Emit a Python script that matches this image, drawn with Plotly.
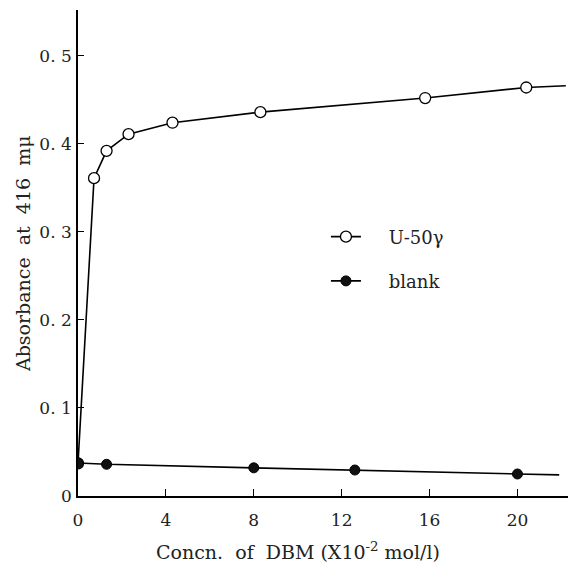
import plotly.graph_objects as go

# Data
u50_x = [0.0, 0.73, 1.3, 2.3, 4.3, 8.3, 15.8, 20.4]
u50_y = [0.037, 0.361, 0.392, 0.411, 0.424, 0.436, 0.452, 0.464]
u50_tail_x = [20.4, 22.2]
u50_tail_y = [0.464, 0.466]

blank_x = [0.0, 1.3, 8.0, 12.6, 20.0]
blank_y = [0.0375, 0.036, 0.032, 0.0295, 0.025]
blank_tail_x = [20.0, 21.9]
blank_tail_y = [0.025, 0.024]

x_ticks = [0, 4, 8, 12, 16, 20]
x_ticktext = ["0", "4", "8", "12", "16", "20"]
y_ticks = [0, 0.1, 0.2, 0.3, 0.4, 0.5]
y_ticktext = ["0", "0. 1", "0. 2", "0. 3", "0. 4", "0. 5"]

x_title = "Concn.  of  DBM (X10<sup>-2</sup> mol/l)"
y_title = "Absorbance  at  416  mμ"

FONT = "DejaVu Serif"
fig = go.Figure()

fig.add_trace(go.Scatter(x=u50_tail_x, y=u50_tail_y, mode="lines",
                         line=dict(color="black", width=1.6), showlegend=False, hoverinfo="skip"))
fig.add_trace(go.Scatter(x=blank_tail_x, y=blank_tail_y, mode="lines",
                         line=dict(color="black", width=1.6), showlegend=False, hoverinfo="skip"))
fig.add_trace(go.Scatter(x=u50_x, y=u50_y, mode="lines+markers", name="\u00a0\u00a0\u00a0\u00a0U-50γ",
                         line=dict(color="black", width=1.6),
                         marker=dict(symbol="circle", size=11, color="white",
                                     line=dict(color="black", width=1.3)),
                         legend="legend"))
fig.add_trace(go.Scatter(x=blank_x, y=blank_y, mode="lines+markers", name="\u00a0\u00a0\u00a0\u00a0blank",
                         line=dict(color="black", width=1.6),
                         marker=dict(symbol="circle", size=10, color="#111111",
                                     line=dict(color="black", width=1)),
                         legend="legend2"))

fig.update_layout(
    width=577, height=573,
    margin=dict(l=78, r=9, t=10, b=77),
    paper_bgcolor="white", plot_bgcolor="white",
    font=dict(family=FONT, size=16, color="#222222"),
    legend=dict(x=0.506, y=0.533, xanchor="left", yanchor="middle",
                bgcolor="rgba(0,0,0,0)", font=dict(size=18)),
    legend2=dict(x=0.506, y=0.442, xanchor="left", yanchor="middle",
                 bgcolor="rgba(0,0,0,0)", font=dict(size=18)),
    xaxis=dict(range=[0, 22.3], tickvals=x_ticks, ticktext=x_ticktext,
               ticks="inside", ticklen=7, tickwidth=1.3, tickcolor="black",
               showline=True, linecolor="black", linewidth=1.6,
               showgrid=False, zeroline=False,
               tickfont=dict(size=17), ticklabelstandoff=8),
    yaxis=dict(range=[0, 0.552], tickvals=y_ticks, ticktext=y_ticktext,
               ticks="inside", ticklen=6, tickwidth=1.3, tickcolor="black",
               showline=True, linecolor="black", linewidth=1.6,
               showgrid=False, zeroline=False,
               tickfont=dict(size=17), ticklabelstandoff=1),
    annotations=[
        dict(text=x_title, xref="paper", yref="paper", x=0.449, y=-0.113,
             xanchor="center", yanchor="middle", showarrow=False,
             font=dict(size=19, family=FONT, color="#222222")),
        dict(text=y_title, xref="paper", yref="paper", x=-0.112, y=0.498,
             xanchor="center", yanchor="middle", showarrow=False, textangle=-90,
             font=dict(size=19, family=FONT, color="#222222")),
    ],
)

fig.write_html("out.html")
